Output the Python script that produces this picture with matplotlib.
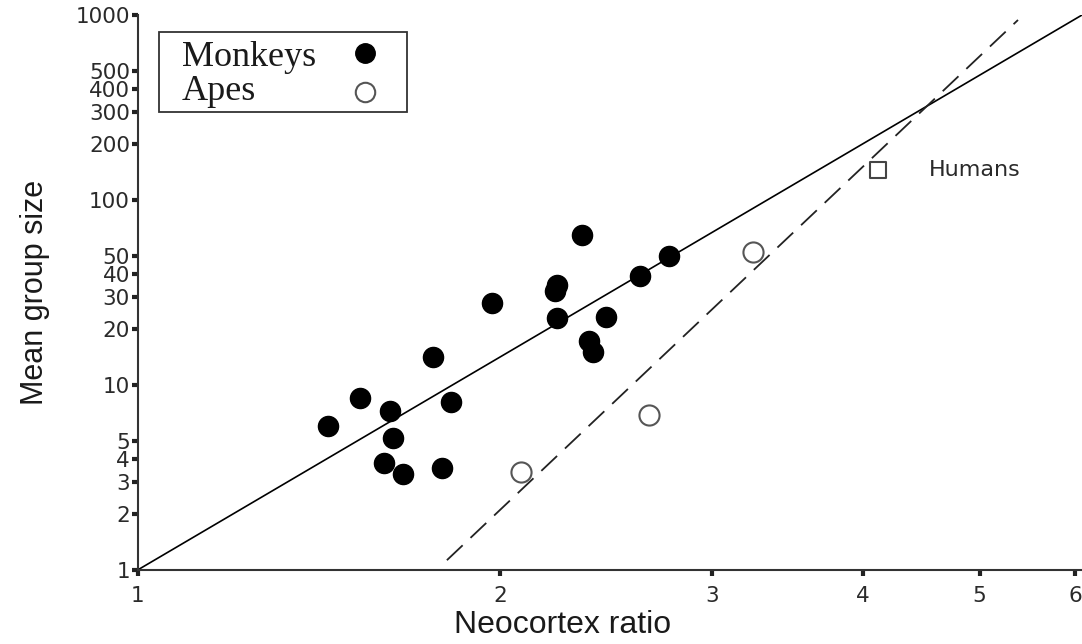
import matplotlib

matplotlib.use("Agg")
import matplotlib.pyplot as plt
from matplotlib.lines import Line2D
from matplotlib.patches import Rectangle
from matplotlib.ticker import FixedLocator, NullLocator, FixedFormatter

# neocortex ratio vs mean group size
monkey_ratio = [1.44, 1.53, 1.62, 1.63, 1.60, 1.66, 1.76, 1.79, 1.82, 1.97,
                2.23, 2.22, 2.23, 2.34, 2.37, 2.39, 2.45, 2.61, 2.76]
monkey_group = [6.0, 8.5, 7.2, 5.2, 3.8, 3.3, 14.2, 3.56, 8.1, 27.7,
                34.7, 32.2, 23.0, 64.7, 17.3, 15.1, 23.3, 38.8, 49.8]

ape_ratio = [2.08, 2.66, 3.24]
ape_group = [3.39, 6.9, 52.4]

human_ratio = [4.12]
human_group = [145]

# regression lines (end points)
monkey_fit_x = [1.0, 6.08]
monkey_fit_y = [1.0, 1000.0]
ape_fit_x = [1.806, 5.38]
ape_fit_y = [1.13, 940.0]

x_ticks = [1, 2, 3, 4, 5, 6]
y_ticks = [1, 2, 3, 4, 5, 10, 20, 30, 40, 50, 100, 200, 300, 400, 500, 1000]
legend_labels = ["Monkeys", "Apes"]

INK = "#2a2a2a"


def draw_legend(fig):
    # hand-made box: text left-aligned, marker column on the right
    fig.add_artist(Rectangle((0.1470, 0.8261), 0.2292, 0.1242,
                             transform=fig.transFigure, facecolor="white",
                             edgecolor="#333333", linewidth=1.3, zorder=5))
    rows = [(0.8975, 0.9177, dict(color="black")),
            (0.8447, 0.8571, dict(markerfacecolor="white",
                                  markeredgecolor="#555555",
                                  markeredgewidth=1.5))]
    for label, (text_y, mark_y, style) in zip(legend_labels, rows):
        fig.text(0.1682, text_y, label, family="Liberation Serif",
                 fontsize=26, va="baseline", color="#1a1a1a", zorder=6)
        fig.add_artist(Line2D([0.3373], [mark_y], marker="o",
                              markersize=14, linestyle="none",
                              transform=fig.transFigure, zorder=6, **style))


def main():
    fig = plt.figure(figsize=(10.82, 6.44), dpi=100)
    ax = fig.add_axes([0.1272, 0.1149, 0.8728, 0.8618])

    ax.set_xscale("log")
    ax.set_yscale("log")
    ax.set_xlim(1, 6.08)
    ax.set_ylim(1, 1000)

    ax.plot(monkey_fit_x, monkey_fit_y, color="black", lw=1.2, zorder=2)
    ax.plot(ape_fit_x, ape_fit_y, color="#222222", lw=1.3,
            dashes=(12, 6), zorder=2)

    ax.scatter(monkey_ratio, monkey_group, s=210, color="black", zorder=3)
    ax.scatter(ape_ratio, ape_group, s=210, facecolor="white",
               edgecolor="#555555", linewidth=1.5, zorder=3)
    ax.scatter(human_ratio, human_group, s=130, marker="s",
               facecolor="white", edgecolor="#444444", linewidth=1.5,
               zorder=3)
    ax.annotate("Humans", (human_ratio[0], human_group[0]),
                xytext=(36, 0), textcoords="offset points", va="center",
                fontsize=16, color=INK, family="DejaVu Sans")

    ax.xaxis.set_major_locator(FixedLocator(x_ticks))
    ax.xaxis.set_major_formatter(FixedFormatter([str(v) for v in x_ticks]))
    ax.xaxis.set_minor_locator(NullLocator())
    ax.yaxis.set_major_locator(FixedLocator(y_ticks))
    ax.yaxis.set_major_formatter(FixedFormatter([str(v) for v in y_ticks]))
    ax.yaxis.set_minor_locator(NullLocator())

    for side in ("top", "right"):
        ax.spines[side].set_visible(False)
    for side in ("left", "bottom"):
        ax.spines[side].set_color("#333333")
        ax.spines[side].set_linewidth(1.5)

    ax.tick_params(axis="both", length=4.5, width=3, color="#222222",
                   labelcolor=INK, labelsize=15.5,
                   labelfontfamily="DejaVu Sans")
    ax.tick_params(axis="y", pad=1)
    ax.tick_params(axis="x", pad=7)

    ax.set_xlabel("Neocortex ratio", fontsize=23, family="Liberation Sans",
                  color="#1a1a1a")
    ax.set_ylabel("Mean group size", fontsize=22, family="Liberation Sans",
                  color="#1a1a1a")
    ax.xaxis.set_label_coords(0.45, -0.072)
    ax.yaxis.set_label_coords(-0.093, 0.5)

    draw_legend(fig)

    fig.savefig("out.png", dpi=100)
    plt.close(fig)


if __name__ == "__main__":
    main()
